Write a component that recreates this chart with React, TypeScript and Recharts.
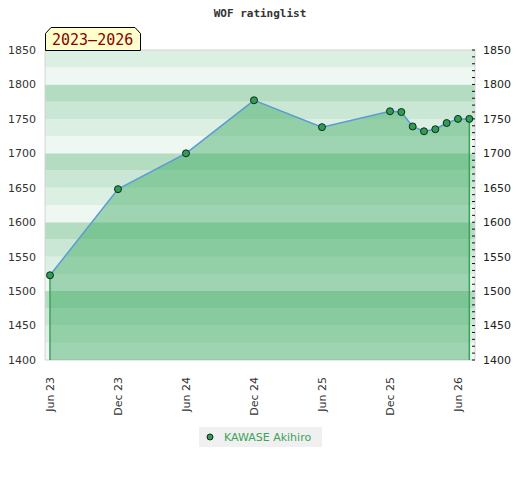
import React from "react";
import {
    ComposedChart,
    Area,
    XAxis,
    YAxis,
    ReferenceArea,
    ReferenceLine,
} from "recharts";

// Rating history, one entry per list
const listDates = [
    "2023-06",
    "2023-12",
    "2024-06",
    "2024-12",
    "2025-06",
    "2025-12",
    "2026-01",
    "2026-02",
    "2026-03",
    "2026-04",
    "2026-05",
    "2026-06",
    "2026-07",
];
const ratings = [1523, 1648, 1700, 1777, 1738, 1761, 1760, 1739, 1732, 1735, 1744, 1750, 1750];

// x axis ticks (months counted from Jun 2023)
const monthTicks = [0, 6, 12, 18, 24, 30, 36];
const monthLabels = ["Jun 23", "Dec 23", "Jun 24", "Dec 24", "Jun 25", "Dec 25", "Jun 26"];

const ratingTicks = [1400, 1450, 1500, 1550, 1600, 1650, 1700, 1750, 1800, 1850];
const bandColors = ["#eff7f2", "#dcefe3", "#c9e7d4", "#b3dcc1"]; // from x00 upwards

const playerName = "KAWASE Akihiro";
const title = "WOF ratinglist";
const periodLabel = "2023–2026";

const toMonth = (d: string) => {
    const [y, m] = d.split("-").map(Number);
    return (y - 2023) * 12 + (m - 6);
};

const data = listDates.map((d, i) => ({ m: toMonth(d), value: ratings[i] }));

const Y_MIN = 1400;
const Y_MAX = 1850;

const bands: { y1: number; y2: number; fill: string }[] = [];
for (let v = Y_MIN; v < Y_MAX; v += 25) {
    bands.push({ y1: v, y2: v + 25, fill: bandColors[((v - 1400) / 25) % 4] });
}

// right axis: small dash every 10 points, label every 50
const minorTicks: number[] = [];
for (let v = Y_MIN; v <= Y_MAX; v += 10) minorTicks.push(v);

const XTick = ({ x, y, payload }: any) => (
    <g transform={`translate(${x},${y + 9}) rotate(-90)`}>
        <text x={0} y={0} dy="0.35em" textAnchor="end" fontSize={11} fill="#333">
            {monthLabels[monthTicks.indexOf(payload.value)]}
        </text>
    </g>
);

const RightTick = ({ x, y, payload }: any) => (
    <g>
        <line x1={x - 3} x2={x} y1={y} y2={y} stroke="#111" strokeWidth={1} />
        {payload.value % 50 === 0 && (
            <text x={x + 8} y={y} dy="0.35em" fontSize={11} fill="#222">
                {payload.value}
            </text>
        )}
    </g>
);

const Dot = ({ cx, cy }: any) =>
    cx == null ? null : (
        <circle cx={cx} cy={cy} r={3.5} fill="#2e9e56" stroke="#142a1c" strokeWidth={1} />
    );

export default function App() {
    const first = data[0];
    const last = data[data.length - 1];
    return (
        <div
            style={{
                position: "absolute",
                left: 0,
                top: 0,
                width: 520,
                height: 480,
                fontFamily: "DejaVu Sans",
            }}
        >
            <ComposedChart
                width={520}
                height={480}
                data={data}
                margin={{ top: 50, right: 0, bottom: 60, left: 0 }}
            >
                <XAxis
                    dataKey="m"
                    type="number"
                    domain={[-0.44, 37.5]}
                    ticks={monthTicks}
                    allowDataOverflow
                    axisLine={false}
                    tickLine={false}
                    height={60}
                    tick={<XTick />}
                    interval={0}
                />
                <YAxis
                    yAxisId="left"
                    domain={[Y_MIN, Y_MAX]}
                    ticks={ratingTicks}
                    allowDataOverflow
                    axisLine={false}
                    tickLine={false}
                    tickSize={0}
                    tickMargin={9}
                    width={45}
                    interval={0}
                    tick={{ fontSize: 11, fill: "#333" }}
                />
                <YAxis
                    yAxisId="right"
                    orientation="right"
                    domain={[Y_MIN, Y_MAX]}
                    ticks={minorTicks}
                    allowDataOverflow
                    axisLine={false}
                    tickLine={false}
                    tickSize={0}
                    tickMargin={0}
                    width={45}
                    interval={0}
                    tick={<RightTick />}
                />
                {bands.map((b) => (
                    <ReferenceArea
                        key={b.y1}
                        yAxisId="left"
                        y1={b.y1}
                        y2={b.y2}
                        fill={b.fill}
                        fillOpacity={1}
                        stroke="none"
                    />
                ))}
                <ReferenceArea
                    yAxisId="left"
                    y1={Y_MIN}
                    y2={Y_MAX}
                    fill="none"
                    stroke="#d4d4d4"
                    strokeWidth={1}
                />
                <Area
                    yAxisId="left"
                    type="linear"
                    dataKey="value"
                    baseValue={Y_MIN}
                    fill="rgb(50,166,90)"
                    fillOpacity={0.43}
                    stroke="#5b9bd5"
                    strokeWidth={1.5}
                    dot={<Dot />}
                    activeDot={false}
                    isAnimationActive={false}
                />
                <ReferenceLine
                    yAxisId="left"
                    segment={[
                        { x: first.m, y: Y_MIN },
                        { x: first.m, y: first.value },
                    ]}
                    stroke="#3aa35a"
                    strokeWidth={1.5}
                />
                <ReferenceLine
                    yAxisId="left"
                    segment={[
                        { x: last.m, y: Y_MIN },
                        { x: last.m, y: last.value },
                    ]}
                    stroke="#3aa35a"
                    strokeWidth={1.5}
                />
            </ComposedChart>
            <svg
                width={520}
                height={52}
                style={{ position: "absolute", left: 0, top: 0, pointerEvents: "none" }}
            >
                <text
                    x={260}
                    y={17}
                    textAnchor="middle"
                    fontFamily="DejaVu Sans Mono"
                    fontWeight="bold"
                    fontSize={11}
                    fill="#333"
                >
                    {title}
                </text>
                <path
                    d="M45.5,50.5 L45.5,33.5 L51,27.5 L135,27.5 L140.5,33.5 L140.5,50.5 Z"
                    fill="#ffffcc"
                    stroke="#000"
                    strokeWidth={1}
                />
                <text
                    x={52}
                    y={45}
                    fontFamily="DejaVu Sans Mono"
                    fontSize={15}
                    fill="#8b0000"
                >
                    {periodLabel}
                </text>
            </svg>
            <div
                style={{
                    position: "absolute",
                    left: 199,
                    top: 427,
                    width: 123,
                    height: 20,
                    background: "#f0f0f0",
                    display: "flex",
                    alignItems: "center",
                    fontSize: 11,
                    color: "#3aa35a",
                }}
            >
                <svg width={25} height={20}>
                    <circle cx={11} cy={10} r={3} fill="#2e9e56" stroke="#142a1c" strokeWidth={1} />
                </svg>
                <span>{playerName}</span>
            </div>
        </div>
    );
}
